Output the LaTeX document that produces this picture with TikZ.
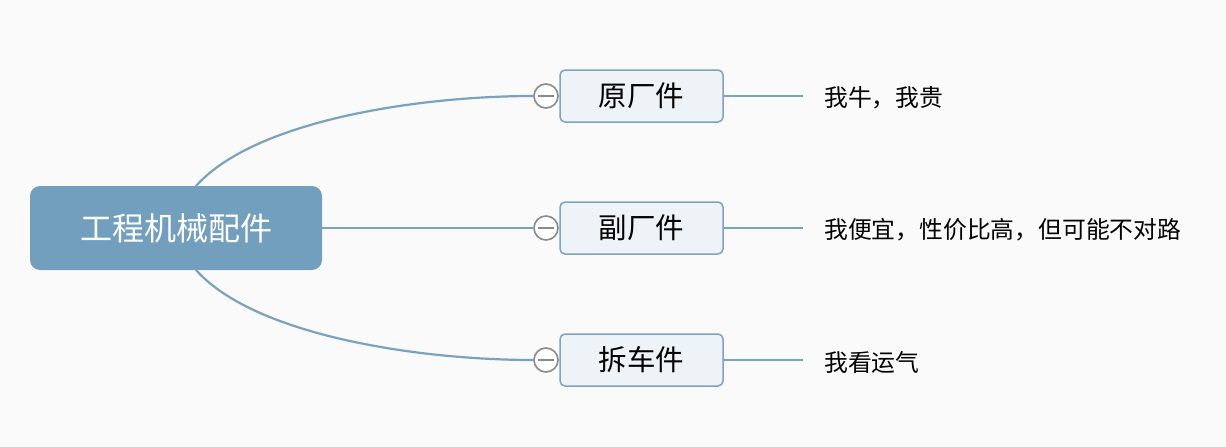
\documentclass[tikz,border=0pt]{standalone}
\usepackage{fontspec}
\setmainfont{Noto Sans CJK SC}
\newfontfamily\cjk{Noto Sans CJK SC}
\definecolor{bg}{HTML}{FAFAFA}
\definecolor{rootfill}{HTML}{739FBF}
\definecolor{linec}{HTML}{7AA1BF}
\definecolor{childfill}{HTML}{EEF3F7}
\definecolor{childdraw}{HTML}{7EA3C1}
\definecolor{collc}{HTML}{8A8A8A}
\begin{document}
\begin{tikzpicture}[x=1pt,y=1pt,
  rootbox/.style={fill=rootfill, rounded corners=10pt, minimum width=292pt, minimum height=84pt, text=white, font=\cjk\fontsize{32}{36}\selectfont, inner sep=0pt},
  childbox/.style={fill=childfill, draw=childdraw, line width=1.5pt, rounded corners=5pt, minimum width=163pt, minimum height=52pt, font=\cjk\fontsize{28.5}{32}\selectfont, inner sep=0pt},
  leaf/.style={anchor=west, font=\cjk\fontsize{23.8}{28}\selectfont, inner sep=0pt},
  conn/.style={draw=linec, line width=2.2pt},
  leafconn/.style={draw=linec, line width=1.8pt},
  collapse/.style={circle, draw=collc, fill=white, line width=1.6pt, minimum size=24pt, inner sep=0pt}
]
\useasboundingbox[fill=bg] (0,0) rectangle (1226,-447);

\node[rootbox] (root) at (176,-228) {工程机械配件};

\node[childbox] (c1) at (641.5,-96) {原厂件};
\node[childbox] (c2) at (641.5,-228) {副厂件};
\node[childbox] (c3) at (641.5,-360) {拆车件};

\node[collapse] (k1) at (546,-96) {};
\node[collapse] (k2) at (546,-228) {};
\node[collapse] (k3) at (546,-360) {};

\coordinate (r1) at (196,-186);
\coordinate (r3) at (196,-270);

\draw[conn] (r1) .. controls (255,-120) and (420,-96) .. (k1.west);
\draw[conn] (root.east) -- (k2.west);
\draw[conn] (r3) .. controls (255,-336) and (420,-360) .. (k3.west);

\foreach \k in {k1,k2,k3}{
  \draw[collc, line width=1.6pt] ([xshift=-8pt]\k.center) -- ([xshift=8pt]\k.center);
}

\node[leaf] (l1) at (824,-98) {我牛，我贵};
\node[leaf] (l2) at (824,-230) {我便宜，性价比高，但可能不对路};
\node[leaf] (l3) at (824,-362) {我看运气};

\coordinate (e1) at (803,-96);
\coordinate (e2) at (803,-228);
\coordinate (e3) at (803,-360);
\draw[leafconn] (c1.east) -- (e1);
\draw[leafconn] (c2.east) -- (e2);
\draw[leafconn] (c3.east) -- (e3);
\end{tikzpicture}
\end{document}
